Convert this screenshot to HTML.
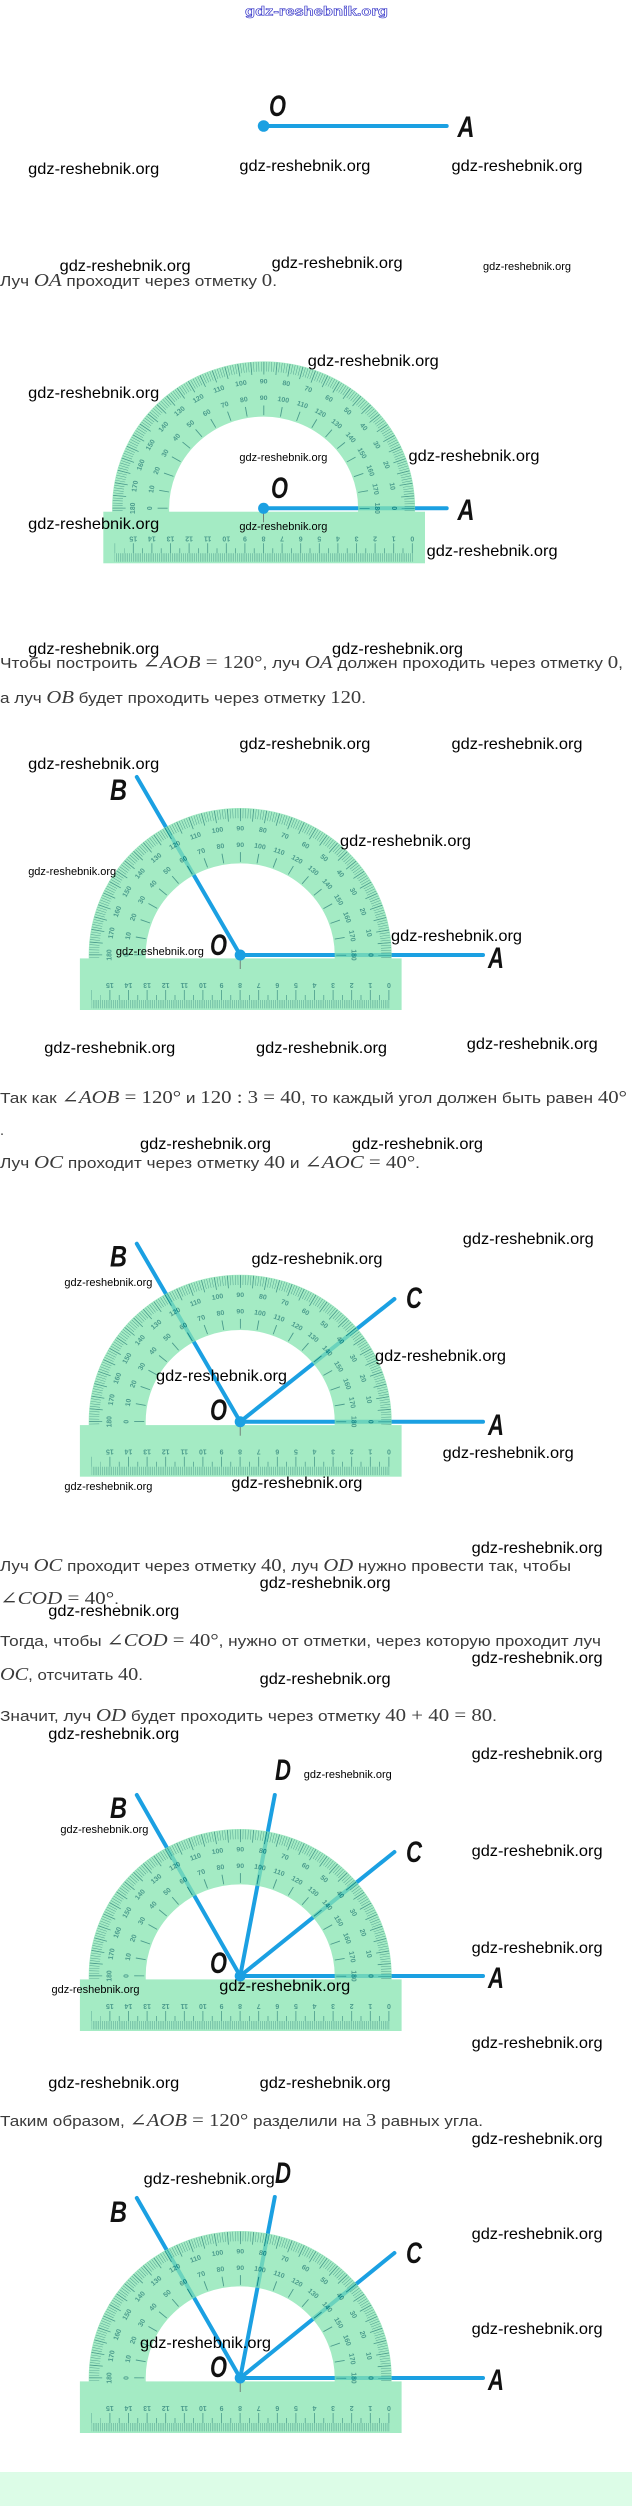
<!DOCTYPE html>
<html><head><meta charset="utf-8"><title>Деление угла 120° на три равных угла транспортиром</title><style>
html,body{margin:0;padding:0;background:#fff;width:632px;height:2506px;overflow:hidden}
svg{display:block}
.t{font-family:"Liberation Sans","DejaVu Sans",sans-serif;font-size:14.5px;fill:#3a3a3a}
.m{font-family:"Liberation Serif","DejaVu Serif",serif;font-style:italic;font-size:17.5px}
.n{font-family:"Liberation Serif","DejaVu Serif",serif;font-style:normal;font-size:17.5px}
.w{font-family:"Liberation Sans",sans-serif;font-size:16px;fill:#000}
.s{font-size:11px}
.L{font-family:"Liberation Sans",sans-serif;font-weight:bold;font-style:italic;font-size:30px;fill:#111}
.tk{fill:none;stroke:#0f7a66}
.pn text{font-family:"Liberation Sans",sans-serif;font-weight:bold;font-size:7px;fill:#0f7a66;text-anchor:middle;dominant-baseline:central}
.r{stroke:#1ba0e2;stroke-width:4;stroke-linecap:round}
</style></head><body>
<svg width="632" height="2506" viewBox="0 0 632 2506" xmlns="http://www.w3.org/2000/svg">
<defs><clipPath id="ct"><rect x="-165" y="-165" width="330" height="169"/></clipPath></defs>
<rect x="0" y="2472" width="632" height="34" fill="#dcfce7"/>

<!-- body text -->
<text class="t" x="0" y="286" textLength="277" lengthAdjust="spacingAndGlyphs">Луч <tspan class="m">OA</tspan> проходит через отметку <tspan class="n">0</tspan>.</text>
<text class="t" x="0" y="668" textLength="623" lengthAdjust="spacingAndGlyphs">Чтобы построить <tspan class="n">∠</tspan><tspan class="m">AOB</tspan><tspan class="n"> = 120°</tspan>, луч <tspan class="m">OA</tspan> должен проходить через отметку <tspan class="n">0</tspan>,</text>
<text class="t" x="0" y="703" textLength="366" lengthAdjust="spacingAndGlyphs">а луч <tspan class="m">OB</tspan> будет проходить через отметку <tspan class="n">120</tspan>.</text>
<text class="t" x="0" y="1103" textLength="627" lengthAdjust="spacingAndGlyphs">Так как <tspan class="n">∠</tspan><tspan class="m">AOB</tspan><tspan class="n"> = 120°</tspan> и <tspan class="n">120 : 3 = 40</tspan>, то каждый угол должен быть равен <tspan class="n">40°</tspan></text>
<text class="t" x="0" y="1135">.</text>
<text class="t" x="0" y="1168" textLength="420" lengthAdjust="spacingAndGlyphs">Луч <tspan class="m">OC</tspan> проходит через отметку <tspan class="n">40</tspan> и <tspan class="n">∠</tspan><tspan class="m">AOC</tspan><tspan class="n"> = 40°</tspan>.</text>
<text class="t" x="0" y="1571" textLength="571" lengthAdjust="spacingAndGlyphs">Луч <tspan class="m">OC</tspan> проходит через отметку <tspan class="n">40</tspan>, луч <tspan class="m">OD</tspan> нужно провести так, чтобы</text>
<text class="t" x="0" y="1604" textLength="119" lengthAdjust="spacingAndGlyphs"><tspan class="n">∠</tspan><tspan class="m">COD</tspan><tspan class="n"> = 40°</tspan>.</text>
<text class="t" x="0" y="1646" textLength="601" lengthAdjust="spacingAndGlyphs">Тогда, чтобы <tspan class="n">∠</tspan><tspan class="m">COD</tspan><tspan class="n"> = 40°</tspan>, нужно от отметки, через которую проходит луч</text>
<text class="t" x="0" y="1680" textLength="143" lengthAdjust="spacingAndGlyphs"><tspan class="m">OC</tspan>, отсчитать <tspan class="n">40</tspan>.</text>
<text class="t" x="0" y="1721" textLength="497" lengthAdjust="spacingAndGlyphs">Значит, луч <tspan class="m">OD</tspan> будет проходить через отметку <tspan class="n">40 + 40 = 80</tspan>.</text>
<text class="t" x="0" y="2126" textLength="483" lengthAdjust="spacingAndGlyphs">Таким образом, <tspan class="n">∠</tspan><tspan class="m">AOB</tspan><tspan class="n"> = 120°</tspan> разделили на <tspan class="n">3</tspan> равных угла.</text>

<!-- FIG 1 -->
<line class="r" x1="263.6" y1="126" x2="446.7" y2="126"/>
<circle cx="263.6" cy="126" r="5.8" fill="#1ba0e2"/>
<text class="L" x="269" y="116" textLength="17" lengthAdjust="spacingAndGlyphs">O</text>
<text class="L" x="457.5" y="137" textLength="17" lengthAdjust="spacingAndGlyphs">A</text>

<!-- FIG 2 -->
<line class="r" x1="263.6" y1="508.3" x2="446.7" y2="508.3"/>
<g transform="translate(263.6,508.3)">
<g opacity="0.75">
<g clip-path="url(#ct)"><g transform="scale(1,0.97)">
<circle r="123" fill="none" stroke="#86e5b1" stroke-width="57"/>
<circle r="146" class="tk" stroke-width="10" stroke-dasharray="0.45 2.0982" stroke-dashoffset="0.225"/>
<circle r="144.5" class="tk" stroke-width="13" stroke-dasharray="0.8 11.81" stroke-dashoffset="0.4"/>
<circle r="101" class="tk" stroke-width="10" stroke-dasharray="0.9 16.728" stroke-dashoffset="0.45"/>
</g></g>
<rect x="-160.3" y="3.4" width="321.7" height="51.6" fill="#86e5b1"/>
<line class="tk" x1="-148.9" y1="49.2" x2="149.2" y2="49.2" stroke-width="8.4" stroke-dasharray="0.45 1.41" stroke-dashoffset="0.225"/>
<line class="tk" x1="-148.9" y1="40" x2="149.5" y2="40" stroke-width="10" stroke-dasharray="0.8 17.8" stroke-dashoffset="0.4"/>
<line class="tk" x1="-139.6" y1="42.5" x2="140" y2="42.5" stroke-width="5" stroke-dasharray="0.7 17.9" stroke-dashoffset="0.35"/>
<g class="pn">
<text transform="translate(148.7,29.5)rotate(180)">0</text><text transform="translate(130.1,29.5)rotate(180)">1</text><text transform="translate(111.5,29.5)rotate(180)">2</text><text transform="translate(92.9,29.5)rotate(180)">3</text><text transform="translate(74.3,29.5)rotate(180)">4</text><text transform="translate(55.7,29.5)rotate(180)">5</text><text transform="translate(37.1,29.5)rotate(180)">6</text><text transform="translate(18.5,29.5)rotate(180)">7</text><text transform="translate(-0.1,29.5)rotate(180)">8</text><text transform="translate(-18.7,29.5)rotate(180)">9</text><text transform="translate(-37.3,29.5)rotate(180)">10</text><text transform="translate(-55.9,29.5)rotate(180)">11</text><text transform="translate(-74.5,29.5)rotate(180)">12</text><text transform="translate(-93.1,29.5)rotate(180)">13</text><text transform="translate(-111.7,29.5)rotate(180)">14</text><text transform="translate(-130.3,29.5)rotate(180)">15</text>
</g>
<g class="pn" transform="scale(1,0.97)">
<text transform="rotate(90)translate(0,-130)">0</text><text transform="rotate(80)translate(0,-130)">10</text><text transform="rotate(70)translate(0,-130)">20</text><text transform="rotate(60)translate(0,-130)">30</text><text transform="rotate(50)translate(0,-130)">40</text><text transform="rotate(40)translate(0,-130)">50</text><text transform="rotate(30)translate(0,-130)">60</text><text transform="rotate(20)translate(0,-130)">70</text><text transform="rotate(10)translate(0,-130)">80</text><text transform="translate(0,-130)">90</text><text transform="rotate(-10)translate(0,-130)">100</text><text transform="rotate(-20)translate(0,-130)">110</text><text transform="rotate(-30)translate(0,-130)">120</text><text transform="rotate(-40)translate(0,-130)">130</text><text transform="rotate(-50)translate(0,-130)">140</text><text transform="rotate(-60)translate(0,-130)">150</text><text transform="rotate(-70)translate(0,-130)">160</text><text transform="rotate(-80)translate(0,-130)">170</text><text transform="rotate(-90)translate(0,-130)">180</text>
<text transform="rotate(90)translate(0,-113)">180</text><text transform="rotate(80)translate(0,-113)">170</text><text transform="rotate(70)translate(0,-113)">160</text><text transform="rotate(60)translate(0,-113)">150</text><text transform="rotate(50)translate(0,-113)">140</text><text transform="rotate(40)translate(0,-113)">130</text><text transform="rotate(30)translate(0,-113)">120</text><text transform="rotate(20)translate(0,-113)">110</text><text transform="rotate(10)translate(0,-113)">100</text><text transform="translate(0,-113)">90</text><text transform="rotate(-10)translate(0,-113)">80</text><text transform="rotate(-20)translate(0,-113)">70</text><text transform="rotate(-30)translate(0,-113)">60</text><text transform="rotate(-40)translate(0,-113)">50</text><text transform="rotate(-50)translate(0,-113)">40</text><text transform="rotate(-60)translate(0,-113)">30</text><text transform="rotate(-70)translate(0,-113)">20</text><text transform="rotate(-80)translate(0,-113)">10</text><text transform="rotate(-90)translate(0,-113)">0</text>
</g>
</g>
<line x1="0" y1="4" x2="0" y2="14" stroke="#666" stroke-width="0.8"/>
<circle r="5.5" fill="#1ba0e2"/>
</g>
<text class="L" x="271" y="498" textLength="17" lengthAdjust="spacingAndGlyphs">O</text>
<text class="L" x="457.5" y="520" textLength="17" lengthAdjust="spacingAndGlyphs">A</text>

<!-- FIG 3 -->
<line class="r" x1="240.2" y1="955" x2="483" y2="955"/>
<line class="r" x1="240.2" y1="955" x2="136.8" y2="777"/>
<g transform="translate(240.2,955)">
<g opacity="0.75">
<g clip-path="url(#ct)"><g transform="scale(1,0.97)">
<circle r="123" fill="none" stroke="#86e5b1" stroke-width="57"/>
<circle r="146" class="tk" stroke-width="10" stroke-dasharray="0.45 2.0982" stroke-dashoffset="0.225"/>
<circle r="144.5" class="tk" stroke-width="13" stroke-dasharray="0.8 11.81" stroke-dashoffset="0.4"/>
<circle r="101" class="tk" stroke-width="10" stroke-dasharray="0.9 16.728" stroke-dashoffset="0.45"/>
</g></g>
<rect x="-160.3" y="3.4" width="321.7" height="51.6" fill="#86e5b1"/>
<line class="tk" x1="-148.9" y1="49.2" x2="149.2" y2="49.2" stroke-width="8.4" stroke-dasharray="0.45 1.41" stroke-dashoffset="0.225"/>
<line class="tk" x1="-148.9" y1="40" x2="149.5" y2="40" stroke-width="10" stroke-dasharray="0.8 17.8" stroke-dashoffset="0.4"/>
<line class="tk" x1="-139.6" y1="42.5" x2="140" y2="42.5" stroke-width="5" stroke-dasharray="0.7 17.9" stroke-dashoffset="0.35"/>
<g class="pn">
<text transform="translate(148.7,29.5)rotate(180)">0</text><text transform="translate(130.1,29.5)rotate(180)">1</text><text transform="translate(111.5,29.5)rotate(180)">2</text><text transform="translate(92.9,29.5)rotate(180)">3</text><text transform="translate(74.3,29.5)rotate(180)">4</text><text transform="translate(55.7,29.5)rotate(180)">5</text><text transform="translate(37.1,29.5)rotate(180)">6</text><text transform="translate(18.5,29.5)rotate(180)">7</text><text transform="translate(-0.1,29.5)rotate(180)">8</text><text transform="translate(-18.7,29.5)rotate(180)">9</text><text transform="translate(-37.3,29.5)rotate(180)">10</text><text transform="translate(-55.9,29.5)rotate(180)">11</text><text transform="translate(-74.5,29.5)rotate(180)">12</text><text transform="translate(-93.1,29.5)rotate(180)">13</text><text transform="translate(-111.7,29.5)rotate(180)">14</text><text transform="translate(-130.3,29.5)rotate(180)">15</text>
</g>
<g class="pn" transform="scale(1,0.97)">
<text transform="rotate(90)translate(0,-130)">0</text><text transform="rotate(80)translate(0,-130)">10</text><text transform="rotate(70)translate(0,-130)">20</text><text transform="rotate(60)translate(0,-130)">30</text><text transform="rotate(50)translate(0,-130)">40</text><text transform="rotate(40)translate(0,-130)">50</text><text transform="rotate(30)translate(0,-130)">60</text><text transform="rotate(20)translate(0,-130)">70</text><text transform="rotate(10)translate(0,-130)">80</text><text transform="translate(0,-130)">90</text><text transform="rotate(-10)translate(0,-130)">100</text><text transform="rotate(-20)translate(0,-130)">110</text><text transform="rotate(-30)translate(0,-130)">120</text><text transform="rotate(-40)translate(0,-130)">130</text><text transform="rotate(-50)translate(0,-130)">140</text><text transform="rotate(-60)translate(0,-130)">150</text><text transform="rotate(-70)translate(0,-130)">160</text><text transform="rotate(-80)translate(0,-130)">170</text><text transform="rotate(-90)translate(0,-130)">180</text>
<text transform="rotate(90)translate(0,-113)">180</text><text transform="rotate(80)translate(0,-113)">170</text><text transform="rotate(70)translate(0,-113)">160</text><text transform="rotate(60)translate(0,-113)">150</text><text transform="rotate(50)translate(0,-113)">140</text><text transform="rotate(40)translate(0,-113)">130</text><text transform="rotate(30)translate(0,-113)">120</text><text transform="rotate(20)translate(0,-113)">110</text><text transform="rotate(10)translate(0,-113)">100</text><text transform="translate(0,-113)">90</text><text transform="rotate(-10)translate(0,-113)">80</text><text transform="rotate(-20)translate(0,-113)">70</text><text transform="rotate(-30)translate(0,-113)">60</text><text transform="rotate(-40)translate(0,-113)">50</text><text transform="rotate(-50)translate(0,-113)">40</text><text transform="rotate(-60)translate(0,-113)">30</text><text transform="rotate(-70)translate(0,-113)">20</text><text transform="rotate(-80)translate(0,-113)">10</text><text transform="rotate(-90)translate(0,-113)">0</text>
</g>
</g>
<line x1="0" y1="4" x2="0" y2="14" stroke="#666" stroke-width="0.8"/>
<circle r="5.5" fill="#1ba0e2"/>
</g>
<text class="L" x="210" y="955" textLength="17" lengthAdjust="spacingAndGlyphs">O</text>
<text class="L" x="488" y="968" textLength="16" lengthAdjust="spacingAndGlyphs">A</text>
<text class="L" x="110" y="800" textLength="17" lengthAdjust="spacingAndGlyphs">B</text>

<!-- FIG 4 -->
<line class="r" x1="240.2" y1="1421.7" x2="483" y2="1421.7"/>
<line class="r" x1="240.2" y1="1421.7" x2="136.8" y2="1243.7"/>
<line class="r" x1="240.2" y1="1421.7" x2="394.4" y2="1299"/>
<g transform="translate(240.2,1421.7)">
<g opacity="0.75">
<g clip-path="url(#ct)"><g transform="scale(1,0.97)">
<circle r="123" fill="none" stroke="#86e5b1" stroke-width="57"/>
<circle r="146" class="tk" stroke-width="10" stroke-dasharray="0.45 2.0982" stroke-dashoffset="0.225"/>
<circle r="144.5" class="tk" stroke-width="13" stroke-dasharray="0.8 11.81" stroke-dashoffset="0.4"/>
<circle r="101" class="tk" stroke-width="10" stroke-dasharray="0.9 16.728" stroke-dashoffset="0.45"/>
</g></g>
<rect x="-160.3" y="3.4" width="321.7" height="51.6" fill="#86e5b1"/>
<line class="tk" x1="-148.9" y1="49.2" x2="149.2" y2="49.2" stroke-width="8.4" stroke-dasharray="0.45 1.41" stroke-dashoffset="0.225"/>
<line class="tk" x1="-148.9" y1="40" x2="149.5" y2="40" stroke-width="10" stroke-dasharray="0.8 17.8" stroke-dashoffset="0.4"/>
<line class="tk" x1="-139.6" y1="42.5" x2="140" y2="42.5" stroke-width="5" stroke-dasharray="0.7 17.9" stroke-dashoffset="0.35"/>
<g class="pn">
<text transform="translate(148.7,29.5)rotate(180)">0</text><text transform="translate(130.1,29.5)rotate(180)">1</text><text transform="translate(111.5,29.5)rotate(180)">2</text><text transform="translate(92.9,29.5)rotate(180)">3</text><text transform="translate(74.3,29.5)rotate(180)">4</text><text transform="translate(55.7,29.5)rotate(180)">5</text><text transform="translate(37.1,29.5)rotate(180)">6</text><text transform="translate(18.5,29.5)rotate(180)">7</text><text transform="translate(-0.1,29.5)rotate(180)">8</text><text transform="translate(-18.7,29.5)rotate(180)">9</text><text transform="translate(-37.3,29.5)rotate(180)">10</text><text transform="translate(-55.9,29.5)rotate(180)">11</text><text transform="translate(-74.5,29.5)rotate(180)">12</text><text transform="translate(-93.1,29.5)rotate(180)">13</text><text transform="translate(-111.7,29.5)rotate(180)">14</text><text transform="translate(-130.3,29.5)rotate(180)">15</text>
</g>
<g class="pn" transform="scale(1,0.97)">
<text transform="rotate(90)translate(0,-130)">0</text><text transform="rotate(80)translate(0,-130)">10</text><text transform="rotate(70)translate(0,-130)">20</text><text transform="rotate(60)translate(0,-130)">30</text><text transform="rotate(50)translate(0,-130)">40</text><text transform="rotate(40)translate(0,-130)">50</text><text transform="rotate(30)translate(0,-130)">60</text><text transform="rotate(20)translate(0,-130)">70</text><text transform="rotate(10)translate(0,-130)">80</text><text transform="translate(0,-130)">90</text><text transform="rotate(-10)translate(0,-130)">100</text><text transform="rotate(-20)translate(0,-130)">110</text><text transform="rotate(-30)translate(0,-130)">120</text><text transform="rotate(-40)translate(0,-130)">130</text><text transform="rotate(-50)translate(0,-130)">140</text><text transform="rotate(-60)translate(0,-130)">150</text><text transform="rotate(-70)translate(0,-130)">160</text><text transform="rotate(-80)translate(0,-130)">170</text><text transform="rotate(-90)translate(0,-130)">180</text>
<text transform="rotate(90)translate(0,-113)">180</text><text transform="rotate(80)translate(0,-113)">170</text><text transform="rotate(70)translate(0,-113)">160</text><text transform="rotate(60)translate(0,-113)">150</text><text transform="rotate(50)translate(0,-113)">140</text><text transform="rotate(40)translate(0,-113)">130</text><text transform="rotate(30)translate(0,-113)">120</text><text transform="rotate(20)translate(0,-113)">110</text><text transform="rotate(10)translate(0,-113)">100</text><text transform="translate(0,-113)">90</text><text transform="rotate(-10)translate(0,-113)">80</text><text transform="rotate(-20)translate(0,-113)">70</text><text transform="rotate(-30)translate(0,-113)">60</text><text transform="rotate(-40)translate(0,-113)">50</text><text transform="rotate(-50)translate(0,-113)">40</text><text transform="rotate(-60)translate(0,-113)">30</text><text transform="rotate(-70)translate(0,-113)">20</text><text transform="rotate(-80)translate(0,-113)">10</text><text transform="rotate(-90)translate(0,-113)">0</text>
</g>
</g>
<line x1="0" y1="4" x2="0" y2="14" stroke="#666" stroke-width="0.8"/>
<circle r="5.5" fill="#1ba0e2"/>
</g>
<text class="L" x="210" y="1420" textLength="17" lengthAdjust="spacingAndGlyphs">O</text>
<text class="L" x="488" y="1435" textLength="16" lengthAdjust="spacingAndGlyphs">A</text>
<text class="L" x="110" y="1266.7" textLength="17" lengthAdjust="spacingAndGlyphs">B</text>
<text class="L" x="406" y="1308" textLength="16" lengthAdjust="spacingAndGlyphs">C</text>

<!-- FIG 5 -->
<line class="r" x1="240.2" y1="1976" x2="483" y2="1976"/>
<line class="r" x1="240.2" y1="1976" x2="136.8" y2="1795"/>
<line class="r" x1="240.2" y1="1976" x2="274.8" y2="1795"/>
<line class="r" x1="240.2" y1="1976" x2="394.4" y2="1852"/>
<g transform="translate(240.2,1976)">
<g opacity="0.75">
<g clip-path="url(#ct)"><g transform="scale(1,0.97)">
<circle r="123" fill="none" stroke="#86e5b1" stroke-width="57"/>
<circle r="146" class="tk" stroke-width="10" stroke-dasharray="0.45 2.0982" stroke-dashoffset="0.225"/>
<circle r="144.5" class="tk" stroke-width="13" stroke-dasharray="0.8 11.81" stroke-dashoffset="0.4"/>
<circle r="101" class="tk" stroke-width="10" stroke-dasharray="0.9 16.728" stroke-dashoffset="0.45"/>
</g></g>
<rect x="-160.3" y="3.4" width="321.7" height="51.6" fill="#86e5b1"/>
<line class="tk" x1="-148.9" y1="49.2" x2="149.2" y2="49.2" stroke-width="8.4" stroke-dasharray="0.45 1.41" stroke-dashoffset="0.225"/>
<line class="tk" x1="-148.9" y1="40" x2="149.5" y2="40" stroke-width="10" stroke-dasharray="0.8 17.8" stroke-dashoffset="0.4"/>
<line class="tk" x1="-139.6" y1="42.5" x2="140" y2="42.5" stroke-width="5" stroke-dasharray="0.7 17.9" stroke-dashoffset="0.35"/>
<g class="pn">
<text transform="translate(148.7,29.5)rotate(180)">0</text><text transform="translate(130.1,29.5)rotate(180)">1</text><text transform="translate(111.5,29.5)rotate(180)">2</text><text transform="translate(92.9,29.5)rotate(180)">3</text><text transform="translate(74.3,29.5)rotate(180)">4</text><text transform="translate(55.7,29.5)rotate(180)">5</text><text transform="translate(37.1,29.5)rotate(180)">6</text><text transform="translate(18.5,29.5)rotate(180)">7</text><text transform="translate(-0.1,29.5)rotate(180)">8</text><text transform="translate(-18.7,29.5)rotate(180)">9</text><text transform="translate(-37.3,29.5)rotate(180)">10</text><text transform="translate(-55.9,29.5)rotate(180)">11</text><text transform="translate(-74.5,29.5)rotate(180)">12</text><text transform="translate(-93.1,29.5)rotate(180)">13</text><text transform="translate(-111.7,29.5)rotate(180)">14</text><text transform="translate(-130.3,29.5)rotate(180)">15</text>
</g>
<g class="pn" transform="scale(1,0.97)">
<text transform="rotate(90)translate(0,-130)">0</text><text transform="rotate(80)translate(0,-130)">10</text><text transform="rotate(70)translate(0,-130)">20</text><text transform="rotate(60)translate(0,-130)">30</text><text transform="rotate(50)translate(0,-130)">40</text><text transform="rotate(40)translate(0,-130)">50</text><text transform="rotate(30)translate(0,-130)">60</text><text transform="rotate(20)translate(0,-130)">70</text><text transform="rotate(10)translate(0,-130)">80</text><text transform="translate(0,-130)">90</text><text transform="rotate(-10)translate(0,-130)">100</text><text transform="rotate(-20)translate(0,-130)">110</text><text transform="rotate(-30)translate(0,-130)">120</text><text transform="rotate(-40)translate(0,-130)">130</text><text transform="rotate(-50)translate(0,-130)">140</text><text transform="rotate(-60)translate(0,-130)">150</text><text transform="rotate(-70)translate(0,-130)">160</text><text transform="rotate(-80)translate(0,-130)">170</text><text transform="rotate(-90)translate(0,-130)">180</text>
<text transform="rotate(90)translate(0,-113)">180</text><text transform="rotate(80)translate(0,-113)">170</text><text transform="rotate(70)translate(0,-113)">160</text><text transform="rotate(60)translate(0,-113)">150</text><text transform="rotate(50)translate(0,-113)">140</text><text transform="rotate(40)translate(0,-113)">130</text><text transform="rotate(30)translate(0,-113)">120</text><text transform="rotate(20)translate(0,-113)">110</text><text transform="rotate(10)translate(0,-113)">100</text><text transform="translate(0,-113)">90</text><text transform="rotate(-10)translate(0,-113)">80</text><text transform="rotate(-20)translate(0,-113)">70</text><text transform="rotate(-30)translate(0,-113)">60</text><text transform="rotate(-40)translate(0,-113)">50</text><text transform="rotate(-50)translate(0,-113)">40</text><text transform="rotate(-60)translate(0,-113)">30</text><text transform="rotate(-70)translate(0,-113)">20</text><text transform="rotate(-80)translate(0,-113)">10</text><text transform="rotate(-90)translate(0,-113)">0</text>
</g>
</g>
<line x1="0" y1="4" x2="0" y2="14" stroke="#666" stroke-width="0.8"/>
<circle r="5.5" fill="#1ba0e2"/>
</g>
<text class="L" x="275" y="1780" textLength="16" lengthAdjust="spacingAndGlyphs">D</text>
<text class="L" x="110" y="1818" textLength="17" lengthAdjust="spacingAndGlyphs">B</text>
<text class="L" x="406" y="1862" textLength="16" lengthAdjust="spacingAndGlyphs">C</text>
<text class="L" x="210" y="1973" textLength="17" lengthAdjust="spacingAndGlyphs">O</text>
<text class="L" x="488" y="1988" textLength="16" lengthAdjust="spacingAndGlyphs">A</text>

<!-- FIG 6 -->
<line class="r" x1="240.2" y1="2378" x2="483" y2="2378"/>
<line class="r" x1="240.2" y1="2378" x2="136.8" y2="2198"/>
<line class="r" x1="240.2" y1="2378" x2="274.8" y2="2197"/>
<line class="r" x1="240.2" y1="2378" x2="394.4" y2="2253"/>
<g transform="translate(240.2,2378)">
<g opacity="0.75">
<g clip-path="url(#ct)"><g transform="scale(1,0.97)">
<circle r="123" fill="none" stroke="#86e5b1" stroke-width="57"/>
<circle r="146" class="tk" stroke-width="10" stroke-dasharray="0.45 2.0982" stroke-dashoffset="0.225"/>
<circle r="144.5" class="tk" stroke-width="13" stroke-dasharray="0.8 11.81" stroke-dashoffset="0.4"/>
<circle r="101" class="tk" stroke-width="10" stroke-dasharray="0.9 16.728" stroke-dashoffset="0.45"/>
</g></g>
<rect x="-160.3" y="3.4" width="321.7" height="51.6" fill="#86e5b1"/>
<line class="tk" x1="-148.9" y1="49.2" x2="149.2" y2="49.2" stroke-width="8.4" stroke-dasharray="0.45 1.41" stroke-dashoffset="0.225"/>
<line class="tk" x1="-148.9" y1="40" x2="149.5" y2="40" stroke-width="10" stroke-dasharray="0.8 17.8" stroke-dashoffset="0.4"/>
<line class="tk" x1="-139.6" y1="42.5" x2="140" y2="42.5" stroke-width="5" stroke-dasharray="0.7 17.9" stroke-dashoffset="0.35"/>
<g class="pn">
<text transform="translate(148.7,29.5)rotate(180)">0</text><text transform="translate(130.1,29.5)rotate(180)">1</text><text transform="translate(111.5,29.5)rotate(180)">2</text><text transform="translate(92.9,29.5)rotate(180)">3</text><text transform="translate(74.3,29.5)rotate(180)">4</text><text transform="translate(55.7,29.5)rotate(180)">5</text><text transform="translate(37.1,29.5)rotate(180)">6</text><text transform="translate(18.5,29.5)rotate(180)">7</text><text transform="translate(-0.1,29.5)rotate(180)">8</text><text transform="translate(-18.7,29.5)rotate(180)">9</text><text transform="translate(-37.3,29.5)rotate(180)">10</text><text transform="translate(-55.9,29.5)rotate(180)">11</text><text transform="translate(-74.5,29.5)rotate(180)">12</text><text transform="translate(-93.1,29.5)rotate(180)">13</text><text transform="translate(-111.7,29.5)rotate(180)">14</text><text transform="translate(-130.3,29.5)rotate(180)">15</text>
</g>
<g class="pn" transform="scale(1,0.97)">
<text transform="rotate(90)translate(0,-130)">0</text><text transform="rotate(80)translate(0,-130)">10</text><text transform="rotate(70)translate(0,-130)">20</text><text transform="rotate(60)translate(0,-130)">30</text><text transform="rotate(50)translate(0,-130)">40</text><text transform="rotate(40)translate(0,-130)">50</text><text transform="rotate(30)translate(0,-130)">60</text><text transform="rotate(20)translate(0,-130)">70</text><text transform="rotate(10)translate(0,-130)">80</text><text transform="translate(0,-130)">90</text><text transform="rotate(-10)translate(0,-130)">100</text><text transform="rotate(-20)translate(0,-130)">110</text><text transform="rotate(-30)translate(0,-130)">120</text><text transform="rotate(-40)translate(0,-130)">130</text><text transform="rotate(-50)translate(0,-130)">140</text><text transform="rotate(-60)translate(0,-130)">150</text><text transform="rotate(-70)translate(0,-130)">160</text><text transform="rotate(-80)translate(0,-130)">170</text><text transform="rotate(-90)translate(0,-130)">180</text>
<text transform="rotate(90)translate(0,-113)">180</text><text transform="rotate(80)translate(0,-113)">170</text><text transform="rotate(70)translate(0,-113)">160</text><text transform="rotate(60)translate(0,-113)">150</text><text transform="rotate(50)translate(0,-113)">140</text><text transform="rotate(40)translate(0,-113)">130</text><text transform="rotate(30)translate(0,-113)">120</text><text transform="rotate(20)translate(0,-113)">110</text><text transform="rotate(10)translate(0,-113)">100</text><text transform="translate(0,-113)">90</text><text transform="rotate(-10)translate(0,-113)">80</text><text transform="rotate(-20)translate(0,-113)">70</text><text transform="rotate(-30)translate(0,-113)">60</text><text transform="rotate(-40)translate(0,-113)">50</text><text transform="rotate(-50)translate(0,-113)">40</text><text transform="rotate(-60)translate(0,-113)">30</text><text transform="rotate(-70)translate(0,-113)">20</text><text transform="rotate(-80)translate(0,-113)">10</text><text transform="rotate(-90)translate(0,-113)">0</text>
</g>
</g>
<line x1="0" y1="4" x2="0" y2="14" stroke="#666" stroke-width="0.8"/>
<circle r="5.5" fill="#1ba0e2"/>
</g>
<text class="L" x="275" y="2183" textLength="16" lengthAdjust="spacingAndGlyphs">D</text>
<text class="L" x="110" y="2222" textLength="17" lengthAdjust="spacingAndGlyphs">B</text>
<text class="L" x="406" y="2263" textLength="16" lengthAdjust="spacingAndGlyphs">C</text>
<text class="L" x="210" y="2377" textLength="17" lengthAdjust="spacingAndGlyphs">O</text>
<text class="L" x="488" y="2390" textLength="16" lengthAdjust="spacingAndGlyphs">A</text>

<!-- watermarks -->
<g class="w">
<text x="28.2" y="174.2" textLength="131" lengthAdjust="spacingAndGlyphs">gdz-reshebnik.org</text>
<text x="239.4" y="171.2" textLength="131" lengthAdjust="spacingAndGlyphs">gdz-reshebnik.org</text>
<text x="451.5" y="171.2" textLength="131" lengthAdjust="spacingAndGlyphs">gdz-reshebnik.org</text>
<text x="59.6" y="271.2" textLength="131" lengthAdjust="spacingAndGlyphs">gdz-reshebnik.org</text>
<text x="271.6" y="268.2" textLength="131" lengthAdjust="spacingAndGlyphs">gdz-reshebnik.org</text>
<text class="s" x="483" y="270" textLength="88" lengthAdjust="spacingAndGlyphs">gdz-reshebnik.org</text>
<text x="307.8" y="366.2" textLength="131" lengthAdjust="spacingAndGlyphs">gdz-reshebnik.org</text>
<text x="28.2" y="398.2" textLength="131" lengthAdjust="spacingAndGlyphs">gdz-reshebnik.org</text>
<text class="s" x="239.4" y="461" textLength="88" lengthAdjust="spacingAndGlyphs">gdz-reshebnik.org</text>
<text x="408.5" y="461.2" textLength="131" lengthAdjust="spacingAndGlyphs">gdz-reshebnik.org</text>
<text x="28.2" y="529.2" textLength="131" lengthAdjust="spacingAndGlyphs">gdz-reshebnik.org</text>
<text class="s" x="239.4" y="530" textLength="88" lengthAdjust="spacingAndGlyphs">gdz-reshebnik.org</text>
<text x="426.6" y="556.2" textLength="131" lengthAdjust="spacingAndGlyphs">gdz-reshebnik.org</text>
<text x="28.2" y="654.2" textLength="131" lengthAdjust="spacingAndGlyphs">gdz-reshebnik.org</text>
<text x="332" y="654.2" textLength="131" lengthAdjust="spacingAndGlyphs">gdz-reshebnik.org</text>
<text x="239.4" y="749.2" textLength="131" lengthAdjust="spacingAndGlyphs">gdz-reshebnik.org</text>
<text x="451.5" y="749.2" textLength="131" lengthAdjust="spacingAndGlyphs">gdz-reshebnik.org</text>
<text x="28.2" y="769.2" textLength="131" lengthAdjust="spacingAndGlyphs">gdz-reshebnik.org</text>
<text x="340" y="846.2" textLength="131" lengthAdjust="spacingAndGlyphs">gdz-reshebnik.org</text>
<text class="s" x="28.2" y="875" textLength="88" lengthAdjust="spacingAndGlyphs">gdz-reshebnik.org</text>
<text x="391" y="941.2" textLength="131" lengthAdjust="spacingAndGlyphs">gdz-reshebnik.org</text>
<text class="s" x="115.9" y="955" textLength="88" lengthAdjust="spacingAndGlyphs">gdz-reshebnik.org</text>
<text x="44.3" y="1053.2" textLength="131" lengthAdjust="spacingAndGlyphs">gdz-reshebnik.org</text>
<text x="256" y="1053.2" textLength="131" lengthAdjust="spacingAndGlyphs">gdz-reshebnik.org</text>
<text x="466.8" y="1049.2" textLength="131" lengthAdjust="spacingAndGlyphs">gdz-reshebnik.org</text>
<text x="140" y="1149.2" textLength="131" lengthAdjust="spacingAndGlyphs">gdz-reshebnik.org</text>
<text x="352" y="1149.2" textLength="131" lengthAdjust="spacingAndGlyphs">gdz-reshebnik.org</text>
<text x="462.8" y="1244.2" textLength="131" lengthAdjust="spacingAndGlyphs">gdz-reshebnik.org</text>
<text x="251.5" y="1264.2" textLength="131" lengthAdjust="spacingAndGlyphs">gdz-reshebnik.org</text>
<text class="s" x="64.4" y="1286" textLength="88" lengthAdjust="spacingAndGlyphs">gdz-reshebnik.org</text>
<text x="375" y="1361.2" textLength="131" lengthAdjust="spacingAndGlyphs">gdz-reshebnik.org</text>
<text x="156" y="1381.2" textLength="131" lengthAdjust="spacingAndGlyphs">gdz-reshebnik.org</text>
<text x="442.7" y="1458.2" textLength="131" lengthAdjust="spacingAndGlyphs">gdz-reshebnik.org</text>
<text class="s" x="64.4" y="1490" textLength="88" lengthAdjust="spacingAndGlyphs">gdz-reshebnik.org</text>
<text x="231.4" y="1488.2" textLength="131" lengthAdjust="spacingAndGlyphs">gdz-reshebnik.org</text>
<text x="471.6" y="1553.2" textLength="131" lengthAdjust="spacingAndGlyphs">gdz-reshebnik.org</text>
<text x="259.6" y="1588.2" textLength="131" lengthAdjust="spacingAndGlyphs">gdz-reshebnik.org</text>
<text x="48.3" y="1616.2" textLength="131" lengthAdjust="spacingAndGlyphs">gdz-reshebnik.org</text>
<text x="471.6" y="1663.2" textLength="131" lengthAdjust="spacingAndGlyphs">gdz-reshebnik.org</text>
<text x="259.6" y="1684.2" textLength="131" lengthAdjust="spacingAndGlyphs">gdz-reshebnik.org</text>
<text x="48.3" y="1739.2" textLength="131" lengthAdjust="spacingAndGlyphs">gdz-reshebnik.org</text>
<text x="471.6" y="1759.2" textLength="131" lengthAdjust="spacingAndGlyphs">gdz-reshebnik.org</text>
<text class="s" x="303.8" y="1778" textLength="88" lengthAdjust="spacingAndGlyphs">gdz-reshebnik.org</text>
<text class="s" x="60.4" y="1833" textLength="88" lengthAdjust="spacingAndGlyphs">gdz-reshebnik.org</text>
<text x="471.6" y="1856.2" textLength="131" lengthAdjust="spacingAndGlyphs">gdz-reshebnik.org</text>
<text x="471.6" y="1953.2" textLength="131" lengthAdjust="spacingAndGlyphs">gdz-reshebnik.org</text>
<text class="s" x="51.5" y="1993" textLength="88" lengthAdjust="spacingAndGlyphs">gdz-reshebnik.org</text>
<text x="219.3" y="1991.2" textLength="131" lengthAdjust="spacingAndGlyphs">gdz-reshebnik.org</text>
<text x="471.6" y="2048.2" textLength="131" lengthAdjust="spacingAndGlyphs">gdz-reshebnik.org</text>
<text x="48.3" y="2088.2" textLength="131" lengthAdjust="spacingAndGlyphs">gdz-reshebnik.org</text>
<text x="259.6" y="2088.2" textLength="131" lengthAdjust="spacingAndGlyphs">gdz-reshebnik.org</text>
<text x="471.6" y="2144.2" textLength="131" lengthAdjust="spacingAndGlyphs">gdz-reshebnik.org</text>
<text x="143.7" y="2184.2" textLength="131" lengthAdjust="spacingAndGlyphs">gdz-reshebnik.org</text>
<text x="471.6" y="2239.2" textLength="131" lengthAdjust="spacingAndGlyphs">gdz-reshebnik.org</text>
<text x="471.6" y="2334.2" textLength="131" lengthAdjust="spacingAndGlyphs">gdz-reshebnik.org</text>
<text x="140" y="2348.2" textLength="131" lengthAdjust="spacingAndGlyphs">gdz-reshebnik.org</text>
</g>

<!-- title -->
<text x="245" y="15.5" textLength="143" lengthAdjust="spacingAndGlyphs" style="font-family:'Liberation Sans',sans-serif;font-size:13px;font-weight:bold;fill:#fff;stroke:#3434c8;stroke-width:0.6">gdz-reshebnik.org</text>
</svg>
</body></html>
